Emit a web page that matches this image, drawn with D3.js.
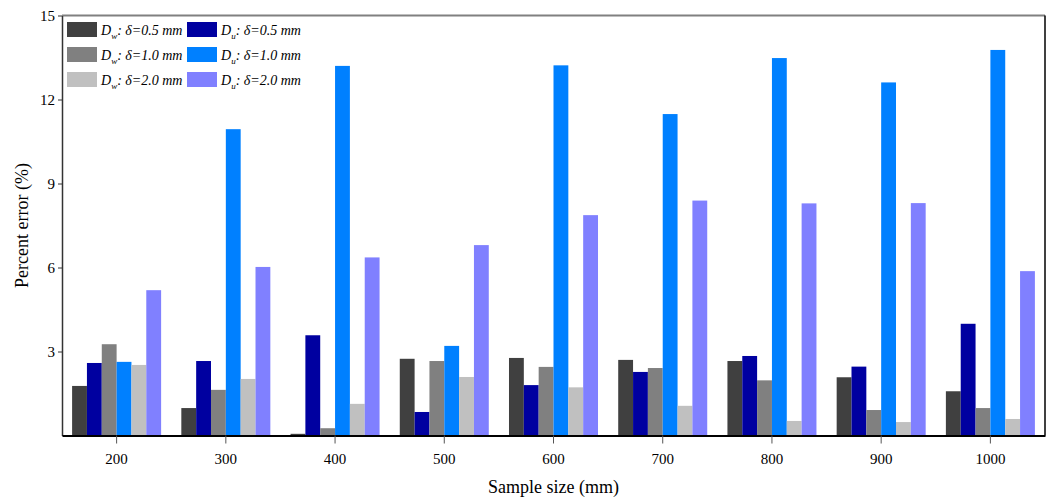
<!DOCTYPE html>
<html>
<head>
<meta charset="utf-8">
<script src="https://cdn.jsdelivr.net/npm/d3@7"></script>
<style>
  body { margin: 0; background: #fff; }
  svg { display: block; font-family: "Liberation Serif", "Times New Roman", serif; }
</style>
</head>
<body>
<div id="chart"></div>
<script>
// sample sizes (mm)
var sizes = ["200", "300", "400", "500", "600", "700", "800", "900", "1000"];
// series keys, in bar order inside each group
var series = ["Dw05", "Du05", "Dw10", "Du10", "Dw20", "Du20"];
var seriesSub = ["w", "u", "w", "u", "w", "u"];
var seriesDelta = ["0.5", "0.5", "1.0", "1.0", "2.0", "2.0"];
var colors = ["#404040", "#0000a0", "#808080", "#0080ff", "#c0c0c0", "#8080ff"];

// percent error values
var Dw05 = [1.77, 0.98, 0.06, 2.74, 2.77, 2.70, 2.66, 2.08, 1.58];
var Du05 = [2.59, 2.66, 3.58, 0.84, 1.80, 2.27, 2.84, 2.46, 3.99];
var Dw10 = [3.26, 1.63, 0.26, 2.66, 2.45, 2.41, 1.97, 0.91, 0.98];
var Du10 = [2.63, 10.94, 13.20, 3.20, 13.22, 11.48, 13.48, 12.61, 13.77];
var Dw20 = [2.52, 2.02, 1.13, 2.09, 1.72, 1.06, 0.52, 0.48, 0.59];
var Du20 = [5.19, 6.02, 6.36, 6.80, 7.87, 8.39, 8.29, 8.30, 5.87];
var yTicks = [3, 6, 9, 12, 15];

var values = { Dw05: Dw05, Du05: Du05, Dw10: Dw10, Du10: Du10, Dw20: Dw20, Du20: Du20 };

var W = 1048, H = 498;
var margin = { top: 15.5, right: 3, bottom: 62.5, left: 62 };
var width = W - margin.left - margin.right,
    height = H - margin.top - margin.bottom;

var svg = d3.select("#chart").append("svg")
    .attr("width", W)
    .attr("height", H);

var g = svg.append("g")
    .attr("transform", "translate(" + margin.left + "," + margin.top + ")");

var x0 = d3.scaleBand()
    .domain(sizes)
    .range([0, width])
    .paddingInner(0.185)
    .paddingOuter(0.0925);

var x1 = d3.scaleBand()
    .domain(series)
    .range([0, x0.bandwidth()]);

var y = d3.scaleLinear()
    .domain([0, 15])
    .range([height, 0]);

var rows = sizes.map(function(s, i) {
  var r = { size: s };
  series.forEach(function(k) { r[k] = values[k][i]; });
  return r;
});

// bars
g.append("g").selectAll("g")
  .data(rows)
  .join("g")
    .attr("transform", function(d) { return "translate(" + x0(d.size) + ",0)"; })
  .selectAll("rect")
  .data(function(d) { return series.map(function(k, j) { return { key: k, value: d[k], color: colors[j] }; }); })
  .join("rect")
    .attr("x", function(d) { return x1(d.key); })
    .attr("y", function(d) { return y(d.value); })
    .attr("width", x1.bandwidth())
    .attr("height", function(d) { return height - y(d.value); })
    .attr("fill", function(d) { return d.color; });

// frame: top gray, right black
g.append("line")
    .attr("x1", 0).attr("x2", width).attr("y1", 0).attr("y2", 0)
    .attr("stroke", "#808080").attr("stroke-width", 2);
g.append("line")
    .attr("x1", width).attr("x2", width).attr("y1", 0).attr("y2", height)
    .attr("stroke", "#000").attr("stroke-width", 1.5);

// y axis
var yAxis = g.append("g")
    .call(d3.axisLeft(y).tickValues(yTicks).tickSize(4).tickPadding(3).tickSizeOuter(0));
yAxis.select(".domain").attr("stroke", "#333").attr("stroke-width", 1.5);
yAxis.selectAll("line").attr("stroke", "#333");
yAxis.selectAll("text")
    .attr("fill", "#000")
    .style("font-size", "15px")
    .style("font-family", "Liberation Serif");

// x axis
var xAxis = g.append("g")
    .attr("transform", "translate(0," + height + ")")
    .call(d3.axisBottom(x0).tickSize(8).tickPadding(10).tickSizeOuter(0));
xAxis.select(".domain").attr("stroke", "#000").attr("stroke-width", 2);
xAxis.selectAll(".tick line").attr("stroke", "#555");
xAxis.selectAll("text")
    .attr("fill", "#000")
    .style("font-size", "15px")
    .style("font-family", "Liberation Serif");

// axis titles
svg.append("text")
    .attr("transform", "translate(28," + (margin.top + height / 2) + ") rotate(-90)")
    .attr("text-anchor", "middle")
    .style("font-size", "18px")
    .text("Percent error (%)");

svg.append("text")
    .attr("x", margin.left + width / 2)
    .attr("y", 493)
    .attr("text-anchor", "middle")
    .style("font-size", "18px")
    .text("Sample size (mm)");

// legend, two columns of three
var legend = svg.append("g");
series.forEach(function(k, i) {
  var col = i % 2, row = Math.floor(i / 2);
  var lx = 67 + col * 120, ly = 22 + row * 25;
  legend.append("rect")
      .attr("x", lx).attr("y", ly)
      .attr("width", 30).attr("height", 15)
      .attr("fill", colors[i]);
  var t = legend.append("text")
      .attr("x", lx + 34).attr("y", ly + 13)
      .style("font-size", "14px")
      .style("font-style", "italic");
  t.append("tspan").text("D");
  t.append("tspan").attr("dy", 4).style("font-size", "9px").text(seriesSub[i]);
  t.append("tspan").attr("dy", -4).text(": \u03b4=" + seriesDelta[i] + " mm");
});
</script>
</body>
</html>
